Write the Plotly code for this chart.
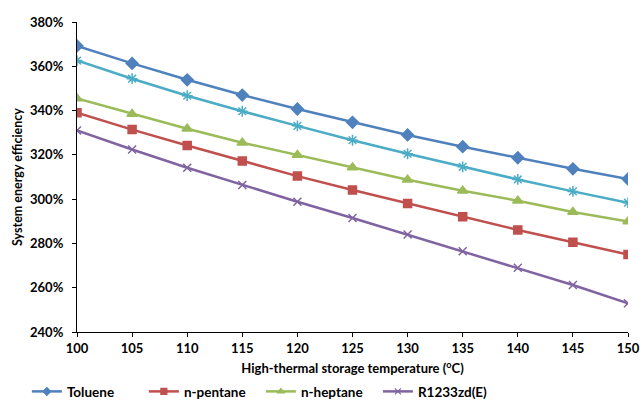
import plotly.graph_objects as go

temps = [100, 105, 110, 115, 120, 125, 130, 135, 140, 145, 150]
toluene = [369.2, 361.3, 353.9, 347.0, 340.7, 334.7, 329.0, 323.7, 318.7, 313.7, 309.1]
n_pentane = [339.0, 331.4, 324.2, 317.2, 310.4, 304.1, 298.0, 292.0, 286.1, 280.5, 275.0]
n_heptane = [345.5, 338.5, 331.8, 325.5, 319.9, 314.3, 308.8, 303.8, 299.3, 294.2, 289.9]
r1233zd = [331.0, 322.4, 314.2, 306.4, 298.8, 291.5, 284.0, 276.5, 269.0, 261.2, 253.0]
cyclopentane = [362.6, 354.4, 346.7, 339.7, 333.1, 326.6, 320.5, 314.6, 308.9, 303.5, 298.4]

y_ticks = [240, 260, 280, 300, 320, 340, 360, 380]
x_ticks = temps

series = [
    ("Toluene", toluene, "#4F81BD", "diamond", 9),
    ("n-pentane", n_pentane, "#C0504D", "square", 8),
    ("n-heptane", n_heptane, "#9BBB59", "triangle-up", 9),
    ("R1233zd(E)", r1233zd, "#8064A2", "x-thin-open", 8),
    ("Cyclopentane", cyclopentane, "#4BACC6", "asterisk-open", 9),
]

fig = go.Figure()
for name, vals, color, sym, size in series:
    fig.add_trace(go.Scatter(
        x=temps, y=[v / 100 for v in vals], name=name, mode="lines+markers",
        line=dict(color=color, width=2.5), showlegend=False, legendgroup=name,
        marker=dict(symbol=sym, size=size, color=color,
                    line=dict(color=color, width=1.5)),
    ))
# legend-only entries with smaller symbols
for name, vals, color, sym, size in series:
    fig.add_trace(go.Scatter(
        x=[None], y=[None], name=name, mode="lines+markers", legendgroup=name,
        line=dict(color=color, width=2.5),
        marker=dict(symbol=sym, size=6, color=color,
                    line=dict(color=color, width=1.2)),
    ))

font = "Lato, 'Open Sans', sans-serif"
fig.update_layout(
    width=640, height=415,
    margin=dict(l=77, r=12, t=22, b=83, autoexpand=False),
    paper_bgcolor="white", plot_bgcolor="white",
    font=dict(family=font, color="black", size=12),
    showlegend=True,
    legend=dict(orientation="h", xref="container", yref="container",
                x=0.042, xanchor="left", y=0.019, yanchor="middle",
                font=dict(size=13.5, family=font, weight="bold"), itemwidth=30,
                entrywidth=72, entrywidthmode="pixels"),
    xaxis=dict(range=[100, 150], tickvals=x_ticks, showgrid=False, zeroline=False,
               showline=True, linecolor="black", linewidth=1.2, automargin=False,
               ticks="outside", ticklen=4, tickcolor="black",
               tickfont=dict(size=13, family=font, weight="bold"),
               title=dict(text="High-thermal storage temperature (<sup>o</sup>C)",
                          font=dict(size=13, family=font, weight="bold"), standoff=19)),
    yaxis=dict(range=[2.4, 3.8], tickvals=[v / 100 for v in y_ticks], tickformat=".0%",
               showgrid=False, zeroline=False, showline=True, linecolor="black", linewidth=1.2,
               automargin=False, ticklabelstandoff=6,
               ticks="outside", ticklen=4, tickcolor="black",
               tickfont=dict(size=13, family=font, weight="bold"),
               title=dict(text="System energy efficiency",
                          font=dict(size=12.5, family=font, weight="bold"), standoff=4)),
)

fig.write_html("out.html", config={"displayModeBar": False},
               post_script="document.body.style.margin='0';document.body.style.overflow='hidden';")
